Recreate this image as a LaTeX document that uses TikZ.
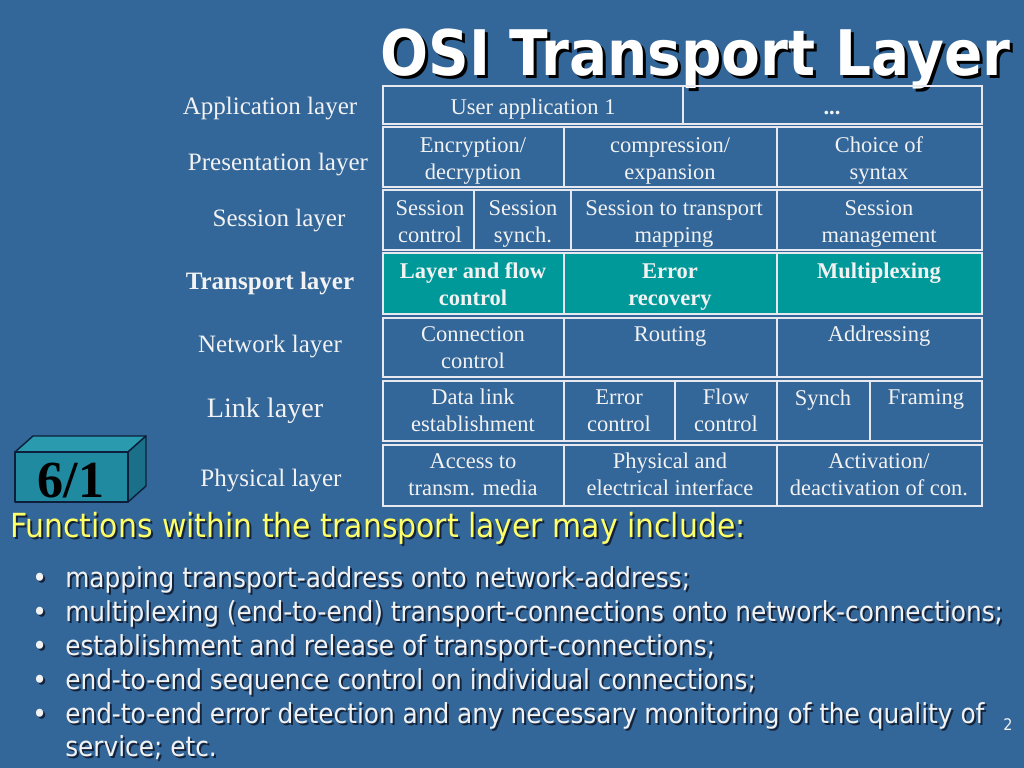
\documentclass[tikz,border=0pt]{standalone}
\usepackage{fontspec}
\setmainfont{Liberation Serif}
\newfontfamily\tahoma{DejaVu Sans Condensed}
\definecolor{bg}{HTML}{336699}
\definecolor{tealc}{HTML}{009999}
\definecolor{gridc}{HTML}{E8E8F0}
\definecolor{txt}{HTML}{F2F2F2}
\definecolor{yel}{HTML}{FFFF66}
\definecolor{shadowc}{HTML}{15233A}
\definecolor{boxfront}{HTML}{1F8AA0}
\definecolor{boxtop}{HTML}{2A9AAE}
\definecolor{boxside}{HTML}{1A7088}
\definecolor{boxline}{HTML}{0D1F3A}
\tikzset{
  cell/.style={font=\fontsize{16}{19.2}\selectfont, text=txt, align=center, inner sep=0pt, anchor=north},
  lab/.style={font=\fontsize{17.8}{21}\selectfont, text=txt, inner sep=0pt, anchor=base},
  gridl/.style={draw=gridc, line width=1.4pt},
  bul/.style={font=\tahoma\fontsize{19.6}{24}\selectfont, text=txt, inner sep=0pt, anchor=base west},
  cube/.style={draw=boxline, line width=1pt, line join=round},
}
\newcommand\bline[3]{%
  \node[bul,text=shadowc] (#1s) at (67,#2+2) {#3};
  \node[bul] (#1) at (65,#2) {#3};}
\newcommand\bdot[2]{%
  \node[bul,text=shadowc] (#1s) at (34,#2+2) {•};
  \node[bul] (#1) at (32,#2) {•};}
\begin{document}
\begin{tikzpicture}[x=0.025cm,y=-0.025cm]
\fill[bg] (0,0) rectangle (1024,768);
\useasboundingbox (0,0) rectangle (1024,768);

% title
\node[anchor=base west, inner sep=0pt, text=black] (titles) at (383,79)
  {\resizebox{15.75cm}{!}{\tahoma\bfseries\fontsize{44}{50}\selectfont OSI Transport Layer}};
\node[anchor=base west, inner sep=0pt, text=white] (title) at (380,76)
  {\resizebox{15.75cm}{!}{\tahoma\bfseries\fontsize{44}{50}\selectfont OSI Transport Layer}};

% table rows
\draw[gridl] (383,86) rectangle (982,124);
\draw[gridl] (683,86) -- (683,124);
\draw[gridl] (383,127) rectangle (982,187);
\draw[gridl] (564,127) -- (564,187) (777,127) -- (777,187);
\draw[gridl] (383,190) rectangle (982,250);
\draw[gridl] (474,190) -- (474,250) (571,190) -- (571,250) (777,190) -- (777,250);
\filldraw[gridl, fill=tealc] (383,253) rectangle (982,314);
\draw[gridl] (564,253) -- (564,314) (777,253) -- (777,314);
\draw[gridl] (383,318) rectangle (982,377);
\draw[gridl] (564,318) -- (564,377) (777,318) -- (777,377);
\draw[gridl] (383,381) rectangle (982,441);
\draw[gridl] (564,381) -- (564,441) (675,381) -- (675,441) (777,381) -- (777,441) (870,381) -- (870,441);
\draw[gridl] (383,445) rectangle (982,506);
\draw[gridl] (564,445) -- (564,506) (777,445) -- (777,506);

% cell texts
\node[cell] (a1) at (533,95) {\strut User application 1};
\node[cell] (a2) at (832,95) {\strut\textbf{...}};
\node[cell] (p1) at (473,133) {\strut Encryption/\\decryption};
\node[cell] (p2) at (670,133) {\strut compression/\\expansion};
\node[cell] (p3) at (879,133) {\strut Choice of\\syntax};
\node[cell] (s1) at (430,196) {\strut Session\\control};
\node[cell] (s2) at (523,196) {\strut Session\\synch.};
\node[cell] (s3) at (674,196) {\strut Session to transport\\mapping};
\node[cell] (s4) at (879,196) {\strut Session\\management};
\node[cell, font=\fontsize{16}{19.2}\selectfont\bfseries] (t1) at (473,259) {\strut Layer and flow\\control};
\node[cell, font=\fontsize{16}{19.2}\selectfont\bfseries] (t2) at (670,259) {\strut Error\\recovery};
\node[cell, font=\fontsize{16}{19.2}\selectfont\bfseries] (t3) at (879,259) {\strut Multiplexing};
\node[cell] (n1) at (473,322) {\strut Connection\\control};
\node[cell] (n2) at (670,322) {\strut Routing};
\node[cell] (n3) at (879,322) {\strut Addressing};
\node[cell] (l1) at (473,385) {\strut Data link\\establishment};
\node[cell] (l2) at (619,385) {\strut Error\\control};
\node[cell] (l3) at (726,385) {\strut Flow\\control};
\node[cell] (l4) at (823,386) {\strut Synch};
\node[cell] (l5) at (926,385) {\strut Framing};
\node[cell] (h1) at (473,449) {\strut Access to\\transm. media};
\node[cell] (h2) at (670,449) {\strut Physical and\\electrical interface};
\node[cell] (h3) at (879,449) {\strut Activation/\\deactivation of con.};

% layer labels
\node[lab] (la) at (270,115) {Application layer};
\node[lab] (lp) at (278,171) {Presentation layer};
\node[lab] (ls) at (279,226) {Session layer};
\node[lab, font=\fontsize{17.8}{21}\selectfont\bfseries] (lt) at (270,289) {Transport layer};
\node[lab] (ln) at (270,352) {Network layer};
\node[lab, font=\fontsize{20}{24}\selectfont] (ll) at (265,417) {Link layer};
\node[lab] (lh) at (271,486) {Physical layer};

% 6/1 box
\filldraw[cube, fill=boxtop] (15,452) -- (33,436) -- (146,436) -- (128,452) -- cycle;
\filldraw[cube, fill=boxside] (128,452) -- (146,436) -- (146,486) -- (128,502) -- cycle;
\filldraw[cube, fill=boxfront] (15,452) rectangle (128,502);
\node[anchor=base, inner sep=0pt, font=\fontsize{37}{40}\selectfont\bfseries, text=black] (num) at (71,497) {6/1};

% subtitle
\node[anchor=base west, inner sep=0pt, text=shadowc] (subs) at (12,539)
  {\resizebox{18.375cm}{!}{\tahoma\fontsize{23.5}{28}\selectfont Functions within the transport layer may include:}};
\node[anchor=base west, inner sep=0pt, text=yel] (sub) at (10,537)
  {\resizebox{18.375cm}{!}{\tahoma\fontsize{23.5}{28}\selectfont Functions within the transport layer may include:}};

% bullets
\bdot{d1}{587}\bline{b1}{587}{mapping transport-address onto network-address;}
\bdot{d2}{621}\bline{b2}{621}{multiplexing (end-to-end) transport-connections onto network-connections;}
\bdot{d3}{655}\bline{b3}{655}{establishment and release of transport-connections;}
\bdot{d4}{689}\bline{b4}{689}{end-to-end sequence control on individual connections;}
\bdot{d5}{723}\bline{b5}{723}{end-to-end error detection and any necessary monitoring of the quality of}
\bline{b6}{756}{service; etc.}

% page number
\node[anchor=base, inner sep=0pt, font=\tahoma\fontsize{11.4}{13}\selectfont, text=txt] (pg) at (1008,730) {2};
\end{tikzpicture}
\end{document}
